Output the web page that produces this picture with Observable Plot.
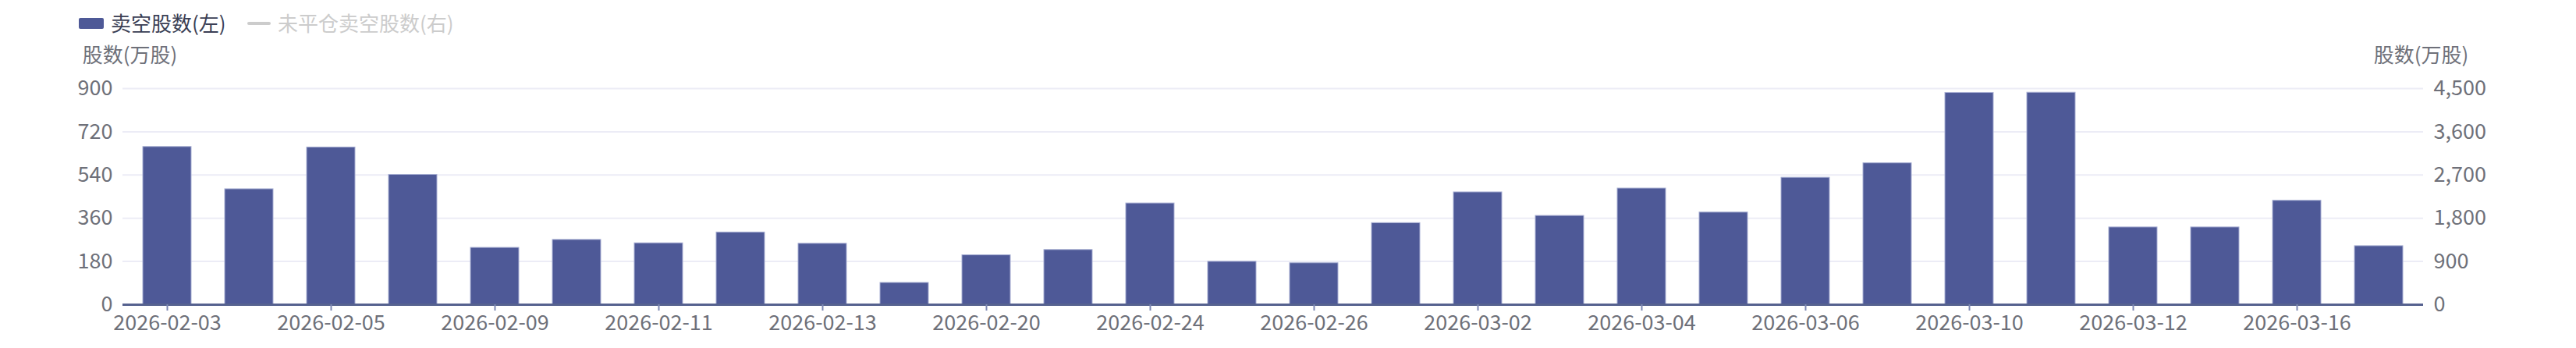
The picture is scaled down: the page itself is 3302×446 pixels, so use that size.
<!DOCTYPE html>
<html>
<head>
<meta charset="utf-8">
<script src="https://cdn.jsdelivr.net/npm/d3@7"></script>
<script src="https://cdn.jsdelivr.net/npm/@observablehq/plot@0.6"></script>
<style>
  html, body { margin: 0; padding: 0; background: #fff; }
  body { width: 3302px; height: 446px; overflow: hidden; font-family: "Noto Sans CJK SC", "Noto Sans", sans-serif; }
  #legend { position: relative; height: 48px; font-size: 26px; }
  #legend span { position: absolute; }
</style>
</head>
<body>
<div id="legend"></div>
<div id="chart"></div>
<script>
// ---- data ----
const dates = [
  "2026-02-03","2026-02-04","2026-02-05","2026-02-06","2026-02-09","2026-02-10","2026-02-11",
  "2026-02-12","2026-02-13","2026-02-16","2026-02-20","2026-02-23","2026-02-24","2026-02-25",
  "2026-02-26","2026-02-27","2026-03-02","2026-03-03","2026-03-04","2026-03-05","2026-03-06",
  "2026-03-09","2026-03-10","2026-03-11","2026-03-12","2026-03-13","2026-03-16","2026-03-17"
];
const shortShares = [
  657, 481, 655, 541, 237, 270, 256,
  301, 254, 91, 206, 228, 422, 179,
  173, 340, 468, 370, 484, 384, 529,
  589, 882, 883, 322, 322, 433, 244
];
const leftTicks = [0, 180, 360, 540, 720, 900];
const rightTickLabels = ["0", "900", "1,800", "2,700", "3,600", "4,500"];
const seriesNames = ["卖空股数(左)", "未平仓卖空股数(右)"];
const axisTitle = "股数(万股)";

const barColor = "#4e5997";
const textColor = "#6e7079";
const font = "\"Noto Sans CJK SC\", \"Noto Sans\", sans-serif";

// ---- legend ----
const legend = document.getElementById("legend");
function addSpan(style, text) {
  const s = document.createElement("span");
  Object.assign(s.style, style);
  if (text) s.textContent = text;
  legend.appendChild(s);
}
addSpan({left: "101px", top: "23px", width: "32px", height: "14px", background: barColor, borderRadius: "2px"});
addSpan({left: "142px", top: "14px", lineHeight: "30px", color: "#3b3f55"}, seriesNames[0]);
addSpan({left: "317px", top: "28px", width: "30px", height: "4px", background: "#cccccc", borderRadius: "2px"});
addSpan({left: "356px", top: "14px", lineHeight: "30px", color: "#cccccc"}, seriesNames[1]);

// ---- chart ----
const data = dates.map((d, i) => ({date: d, value: shortShares[i]}));
const tickDates = dates.filter((d, i) => i % 2 === 0);

const chart = Plot.plot({
  width: 3302,
  height: 398,
  marginLeft: 157,
  marginRight: 196,
  marginTop: 65,
  marginBottom: 56,
  x: {domain: dates, paddingInner: 0.41, paddingOuter: 0.205, label: null},
  y: {domain: [0, 900], label: null},
  style: {fontSize: "27px", fontFamily: font, color: textColor, background: "white", overflow: "visible"},
  marks: [
    Plot.ruleY(leftTicks.filter(d => d > 0), {stroke: "#ececf6", strokeWidth: 2}),
    Plot.barY(data, {x: "date", y: "value", fill: barColor, stroke: "#a8afd3", strokeWidth: 1}),
    Plot.ruleY([0], {stroke: "#56628f", strokeWidth: 3}),
    Plot.axisX(tickDates, {tickSize: 8, tickPadding: 5, stroke: "#7d88b3", strokeWidth: 2, fill: textColor, label: null}),
    Plot.axisY(leftTicks, {anchor: "left", tickSize: 0, tickPadding: 13, fill: textColor, label: null}),
    Plot.axisY(leftTicks, {anchor: "right", tickSize: 0, tickPadding: 13, fill: textColor, label: null,
      tickFormat: d => rightTickLabels[leftTicks.indexOf(d)]}),
    Plot.text([axisTitle], {frameAnchor: "top-left", text: d => d, textAnchor: "middle", lineAnchor: "middle", dx: 9, dy: -42, fill: textColor, fontSize: 26}),
    Plot.text([axisTitle], {frameAnchor: "top-right", text: d => d, textAnchor: "middle", lineAnchor: "middle", dx: -3, dy: -42, fill: textColor, fontSize: 26})
  ]
});
document.getElementById("chart").appendChild(chart);
</script>
</body>
</html>
